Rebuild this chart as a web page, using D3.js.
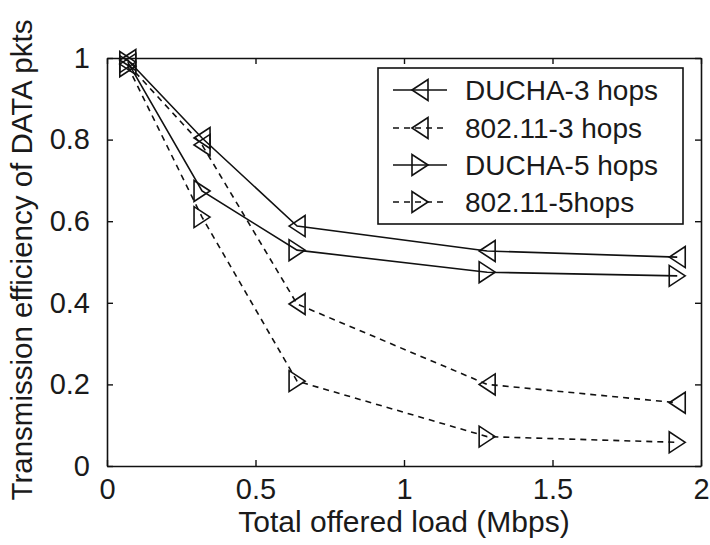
<!DOCTYPE html>
<html>
<head>
<meta charset="utf-8">
<script src="https://cdn.jsdelivr.net/npm/d3@7"></script>
<style>
  body { margin: 0; background: #fff; }
  text { font-family: "Liberation Sans", Arial, sans-serif; fill: #1a1a1a; }
</style>
</head>
<body>
<svg id="chart" width="710" height="545"></svg>
<script>
// ---- data ----
const xValues = [0.07, 0.32, 0.64, 1.28, 1.92];
const duchaThree = [0.995, 0.804, 0.588, 0.527, 0.512];
const ieeeThree = [0.985, 0.787, 0.397, 0.200, 0.155];
const duchaFive = [0.99, 0.674, 0.529, 0.475, 0.466];
const ieeeFive = [0.98, 0.610, 0.208, 0.072, 0.058];
const seriesNames = ["DUCHA-3 hops", "802.11-3 hops", "DUCHA-5 hops", "802.11-5hops"];
const xTicks = [0, 0.5, 1, 1.5, 2];
const yTicks = [0, 0.2, 0.4, 0.6, 0.8, 1];
const xTitle = "Total offered load (Mbps)";
const yTitle = "Transmission efficiency of DATA pkts";

const series = [
  { name: seriesNames[0], values: duchaThree, dashed: false, marker: "left" },
  { name: seriesNames[1], values: ieeeThree, dashed: true, marker: "left" },
  { name: seriesNames[2], values: duchaFive, dashed: false, marker: "right" },
  { name: seriesNames[3], values: ieeeFive, dashed: true, marker: "right" }
];

// ---- layout ----
const svg = d3.select("#chart");
const L = 107, T = 58, W = 594, H = 408;
const FS = 28;
const x = d3.scaleLinear().domain([0, 2]).range([L, L + W]);
const y = d3.scaleLinear().domain([0, 1]).range([T + H, T]);
const DASH = "6,5";

// axes (inward ticks, MATLAB box)
const gx = svg.append("g").attr("transform", `translate(0,${T + H})`)
  .call(d3.axisBottom(x).tickValues(xTicks).tickFormat(d3.format("")).tickSizeInner(-6).tickSizeOuter(0).tickPadding(12));
const gy = svg.append("g").attr("transform", `translate(${L},0)`)
  .call(d3.axisLeft(y).tickValues(yTicks).tickFormat(d3.format("")).tickSizeInner(-6).tickSizeOuter(0).tickPadding(17));
const gt = svg.append("g").attr("transform", `translate(0,${T})`)
  .call(d3.axisTop(x).tickValues(xTicks).tickFormat("").tickSizeInner(-6).tickSizeOuter(0));
const gr = svg.append("g").attr("transform", `translate(${L + W},0)`)
  .call(d3.axisRight(y).tickValues(yTicks).tickFormat("").tickSizeInner(-6).tickSizeOuter(0));
[gx, gy, gt, gr].forEach(g => {
  g.selectAll("path.domain").attr("stroke", "#111").attr("stroke-width", 1.6);
  g.selectAll("line").attr("stroke", "#111").attr("stroke-width", 1.4);
  g.selectAll("text").attr("font-size", 29).attr("font-family", "Liberation Sans, Arial, sans-serif").attr("fill", "#1a1a1a");
});

// axis titles
svg.append("text").attr("x", L + W / 2).attr("y", 532).attr("text-anchor", "middle")
  .attr("font-size", 30).text(xTitle);
svg.append("text").attr("transform", `translate(32,${T + H / 2 - 2}) rotate(-90)`)
  .attr("text-anchor", "middle").attr("font-size", 29.5).text(yTitle);

// marker path
function tri(dir) {
  const w = 16, h = 21;
  if (dir === "left") return `M${-w / 2},0 L${w / 2},${-h / 2} L${w / 2},${h / 2} Z`;
  return `M${w / 2},0 L${-w / 2},${-h / 2} L${-w / 2},${h / 2} Z`;
}

const line = d3.line().x(d => x(d[0])).y(d => y(d[1]));

series.forEach(s => {
  const pts = xValues.map((xv, i) => [xv, s.values[i]]);
  svg.append("path").datum(pts).attr("d", line)
    .attr("fill", "none").attr("stroke", "#111").attr("stroke-width", 1.6)
    .attr("stroke-dasharray", s.dashed ? DASH : null);
  svg.append("g").selectAll("path").data(pts).join("path")
    .attr("transform", d => `translate(${x(d[0])},${y(d[1])})`)
    .attr("d", tri(s.marker))
    .attr("fill", "none").attr("stroke", "#111").attr("stroke-width", 1.6);
});

// legend
const lg = svg.append("g");
lg.append("rect").attr("x", 378).attr("y", 68).attr("width", 305).attr("height", 156)
  .attr("fill", "#fff").attr("stroke", "#111").attr("stroke-width", 1.6);
const rowY = [90, 128, 165, 202];
series.forEach((s, i) => {
  const yy = rowY[i];
  lg.append("line").attr("x1", 393).attr("x2", 447).attr("y1", yy).attr("y2", yy)
    .attr("stroke", "#111").attr("stroke-width", 1.6)
    .attr("stroke-dasharray", s.dashed ? DASH : null);
  lg.append("path").attr("transform", `translate(420,${yy})`).attr("d", tri(s.marker))
    .attr("fill", "none").attr("stroke", "#111").attr("stroke-width", 1.6);
  lg.append("text").attr("x", 465).attr("y", yy + 10).attr("font-size", FS).text(s.name);
});
</script>
</body>
</html>
